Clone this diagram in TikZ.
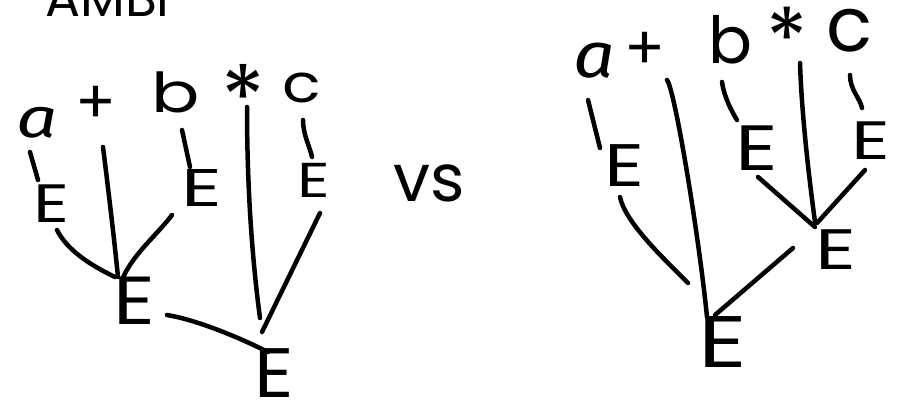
\documentclass[tikz,border=0pt]{standalone}
\usepackage{fontspec}
\usepackage{graphicx}
\setmainfont{Poppins}
\newfontfamily\handa{Fira Sans Italic}
\begin{document}
\begin{tikzpicture}[x=1pt,y=-1pt,
  every node/.style={inner sep=0pt},
  capE/.style={font=\fontsize{#1}{#1}\selectfont, text height=\dimexpr#1pt*70/100\relax, text depth=0pt},
  lowx/.style={font=\fontsize{#1}{#1}\selectfont, text height=\dimexpr#1pt*55/100\relax, text depth=0pt},
  tall/.style={font=\fontsize{#1}{#1}\selectfont, text height=\dimexpr#1pt*74/100\relax, text depth=0pt},
  oper/.style={font=\fontsize{#1}{#1}\selectfont, text height=\dimexpr#1pt*58/100\relax, text depth=\dimexpr-#1pt*10/100\relax},
  starsym/.style={font=\fontsize{#1}{#1}\selectfont, text height=\dimexpr#1pt*76/100\relax, text depth=\dimexpr-#1pt*38/100\relax},
  edge/.style={line width=4.5pt, line cap=round, line join=round}]
\useasboundingbox (0,0) rectangle (898,403);

% heading, cut by the top edge
\node[anchor=base west, font=\fontsize{52}{52}\selectfont] (title) at (45,17) {AMBI};

% ---------- left parse tree: (a + b) * c ----------
\node[lowx=56] (la)    at (37,122) {\handa\scalebox{1.3}[1]{a}};
\node[oper=60] (lplus) at (96,106) {+};
\node[tall=55] (lb)    at (176,92) {\scalebox{1.3}[1]{b}};
\node[starsym=90] (lstar) at (243,96) {*};
\node[lowx=53] (lc)    at (302,88) {\scalebox{1.2}[1]{c}};

\node[capE=54] (lE1) at (52,204) {\scalebox{1.3}[1]{E}};
\node[capE=53] (lE2) at (202,188) {\scalebox{1.5}[1]{E}};
\node[capE=49] (lE3) at (314,180) {\scalebox{1.3}[1]{E}};
\node[capE=68] (lE4) at (134,301) {\scalebox{1.2}[1]{E}};
\node[capE=70] (lE5) at (274,373) {\scalebox{1.1}[1]{E}};

\draw[edge] ([shift={(-7,30)}]la.center) -- ([shift={(-14,-24)}]lE1.center);
\draw[edge] ([shift={(7,41)}]lplus.center) .. controls +(5,40) and +(-4,-40) .. ([shift={(-16,-24)}]lE4.center);
\draw[edge] ([shift={(5,26)}]lE1.center) .. controls +(10,20) and +(-25,-12) .. ([shift={(-19,-24)}]lE4.center);
\draw[edge] ([shift={(6,38)}]lb.center) -- ([shift={(-12,-21)}]lE2.center);
\draw[edge] ([shift={(-30,27)}]lE2.center) .. controls +(-15,20) and +(10,-25) .. ([shift={(-12,-21)}]lE4.center);
\draw[edge] ([shift={(4,11)}]lstar.center) .. controls +(0,80) and +(-8,-60) .. ([shift={(-14,-55)}]lE5.center);
\draw[edge] ([shift={(1,32)}]lc.center) .. controls +(0,15) and +(-2,-10) .. ([shift={(-2,-23)}]lE3.center);
\draw[edge] ([shift={(6,33)}]lE3.center) -- ([shift={(-12,-41)}]lE5.center);
\draw[edge] ([shift={(33,14)}]lE4.center) .. controls +(30,5) and +(-30,-15) .. ([shift={(-6,-21)}]lE5.center);

\node[lowx=66] (vs) at (429,183) {vs};

% ---------- right parse tree: a + (b * c) ----------
\node[lowx=64] (ra)    at (594,60) {\handa\scalebox{1.15}[1]{a}};
\node[oper=60] (rplus) at (645,52) {+};
\node[tall=65] (rb)    at (730,39) {b};
\node[starsym=85] (rstar) at (787,37) {*};
\node[lowx=76] (rc)    at (850,31) {c};

\node[capE=60] (rEa) at (625,166) {\scalebox{1.3}[1]{E}};
\node[capE=64] (rEb) at (757,148) {\scalebox{1.3}[1]{E}};
\node[capE=54] (rEc) at (871,141) {\scalebox{1.4}[1]{E}};
\node[capE=57] (rEm) at (836,250) {\scalebox{1.4}[1]{E}};
\node[capE=73] (rE)  at (723,342) {\scalebox{1.3}[1]{E}};

\draw[edge] ([shift={(-6,40)}]ra.center) -- ([shift={(-25,-18)}]rEa.center);
\draw[edge] ([shift={(22,28)}]rplus.center) .. controls +(8,10) and +(-8,-80) .. ([shift={(-16,-25)}]rE.center);
\draw[edge] ([shift={(-5,31)}]rEa.center) .. controls +(5,25) and +(-25,-25) .. ([shift={(-35,-59)}]rE.center);
\draw[edge] ([shift={(-8,43)}]rb.center) .. controls +(2,15) and +(-5,-8) .. ([shift={(-20,-28)}]rEb.center);
\draw[edge] ([shift={(13,26)}]rstar.center) .. controls +(2,60) and +(-4,-30) .. ([shift={(-21,-28)}]rEm.center);
\draw[edge] ([shift={(0,44)}]rc.center) .. controls +(0,15) and +(-2,-10) .. ([shift={(-9,-33)}]rEc.center);
\draw[edge] ([shift={(1,29)}]rEb.center) -- ([shift={(-21,-23)}]rEm.center);
\draw[edge] ([shift={(-6,29)}]rEc.center) -- ([shift={(-19,-27)}]rEm.center);
\draw[edge] ([shift={(-43,-2)}]rEm.center) -- ([shift={(-8,-27)}]rE.center);
\end{tikzpicture}
\end{document}
